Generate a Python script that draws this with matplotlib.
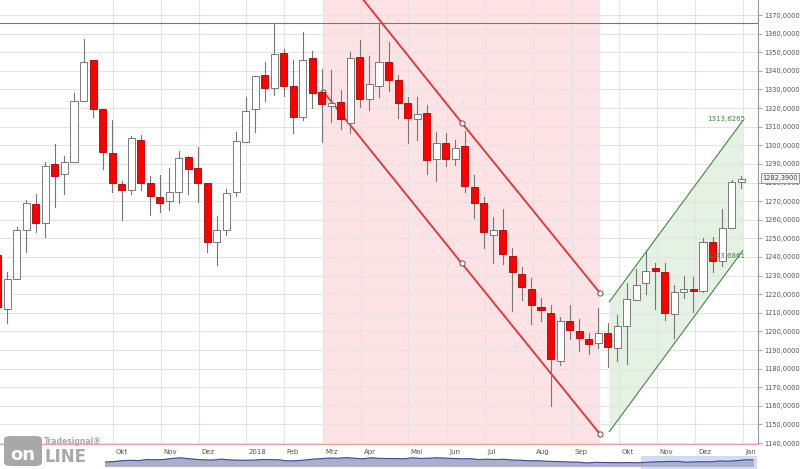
import matplotlib
matplotlib.use("Agg")
import matplotlib.pyplot as plt
from matplotlib.patches import Rectangle, Polygon, FancyBboxPatch
import numpy as np

# weekly candles (open, high, low, close)
opens = [1241,1212,1228,1254.5,1268.5,1258.5,1290,1284.6,1291,1324,1346,1319.5,1296,1279,1276,1303,1279.7,1272,1270,1275,1293.7,1288,1280,1248,1254.5,1274.7,1302,1319.5,1337.6,1331,1349.6,1332,1315,1347,1328.6,1321,1323,1312,1347.4,1325,1332,1344.7,1335,1322.7,1314,1317.4,1292.6,1301,1292.6,1299.6,1277.5,1269,1251.8,1254.5,1240.5,1230.8,1222.6,1213,1210,1184,1205.6,1200,1196,1193.8,1199,1191,1203,1217,1226,1234,1232,1209.4,1221,1222.6,1221.6,1248,1238,1255.5,1280.4]
highs = [1245,1232,1256,1270.6,1274,1291,1300.7,1294,1328,1357,1346,1319.5,1313.6,1281,1305,1305.5,1283.5,1284,1288,1297,1294,1299,1280,1262,1276.5,1307,1326,1337,1344.7,1365.7,1352,1346,1361,1350.7,1341,1340.5,1329.6,1350,1356.6,1348,1365.7,1355.5,1338,1326,1326,1321.6,1307,1306.6,1303,1307.7,1284,1272,1261.5,1265.7,1245,1234.6,1228.6,1218,1214,1207.7,1214,1206.6,1199,1212.5,1204.5,1209,1226,1233.5,1243.7,1236.8,1236.7,1225,1230,1229.2,1250,1250.7,1266,1281.3,1283.5]
lows = [1210,1204.5,1228,1242.7,1253.5,1250.5,1267,1274,1291,1324,1315,1287,1275,1260,1274,1276,1262.5,1264,1265,1269,1273.8,1269.5,1242.7,1235.6,1252,1273,1302,1307,1324,1327,1326.5,1306.6,1313.6,1320,1302,1312.5,1309,1306.6,1320.5,1319,1326,1329,1314.6,1301,1303,1284.6,1281,1289,1289.4,1275,1261,1245,1237,1236,1211,1217,1204,1205.6,1160,1182,1196,1189.5,1187.8,1191,1180.8,1184,1182.4,1217,1220,1212,1206,1196.4,1218,1210.4,1221,1232,1235,1255.5,1277]
closes = [1213,1228,1254.5,1269,1258,1289,1283.5,1291,1324,1345,1319.5,1296.4,1280,1276,1304,1279.7,1273,1269,1275,1293,1287,1280,1248,1254.5,1274.5,1302.5,1318.6,1337,1331,1349,1332,1315,1346,1328,1322,1322.7,1314,1347,1325,1333,1345,1335,1322.7,1314.7,1317,1292,1301,1292.6,1298.5,1278,1269,1253.4,1254.5,1241.5,1232,1224,1214,1211.5,1185,1205.6,1201,1196.4,1193.3,1199,1191.6,1203,1217.4,1225,1232.5,1232.4,1210,1221,1222.8,1221.6,1248,1238,1255.5,1280.4,1282]

month_pos = [12.04,17.13,21.12,26.05,30.04,34.13,38.12,43.05,47.14,51.13,56.17,60.26,65.19,69.18,73.17,78.2]
month_lbl = ["Okt","Nov","Dez","2018","Feb","Mrz","Apr","Mai","Jun","Jul","Aug","Sep","Okt","Nov","Dez","Jan"]

red_x = [34.16, 48.68, 63.19]
red_upper = [1405.0, 1312.1, 1220.6]
red_lower = [1328.8, 1236.6, 1144.8]
green_x = [64.17, 78.17]
green_upper = [1215.9, 1313.2]
green_lower = [1146.1, 1243.4]
resist = 1365.7
last = 1282.39

fig = plt.figure(figsize=(8, 4.69), dpi=100)
ax = fig.add_axes([0, 25/469, 758/800, 444/469])
ax.set_xlim(0.234, 79.77)
ax.set_ylim(1139.5, 1378.06)
ax.set_facecolor("white")
ax.set_yticks(np.arange(1140, 1371, 10))
ax.grid(True, color="#e4e4e4", lw=0.8)
ax.set_axisbelow(True)
ax.set_xticks(month_pos)
ax.set_xticklabels([])
for sp in ["top", "left"]:
    ax.spines[sp].set_visible(False)
ax.spines["bottom"].set_color("#e8a0a0")
ax.spines["right"].set_color("#999999")
ax.yaxis.tick_right()
ax.set_yticklabels([f"{v:.4f}".replace(".", ",") for v in np.arange(1140, 1371, 10)],
                   fontsize=4.8, color="#555555")
ax.tick_params(axis="y", length=3, color="#aaaaaa", pad=1.5)
ax.tick_params(axis="x", length=0)
for p, l in zip(month_pos, month_lbl):
    ax.annotate(l, (p, 0), xycoords=("data", "axes fraction"), xytext=(2, -6),
                textcoords="offset points", fontsize=5, color="#555555", ha="left", va="center")

# red channel
ax.axvspan(red_x[0], red_x[-1], color="#fde3e5", zorder=0.5, lw=0)
ax.plot(red_x, red_upper, color="#e83030", lw=1.3, zorder=3)
ax.plot(red_x, red_lower, color="#e83030", lw=1.3, zorder=3)
ax.scatter([red_x[0], red_x[1], red_x[2], red_x[1], red_x[2]],
           [red_lower[0], red_lower[1], red_lower[2], red_upper[1], red_upper[2]],
           s=14, facecolor="white", edgecolor="#555555", lw=0.7, zorder=4)
# green channel
ax.add_patch(Polygon([[green_x[0], green_lower[0]], [green_x[1], green_lower[1]],
                      [green_x[1], green_upper[1]], [green_x[0], green_upper[0]]],
                     closed=True, facecolor="#e5f1e3", edgecolor="none", zorder=0.5))
ax.plot(green_x, green_upper, color="#3d8a3d", lw=0.8, zorder=3)
ax.plot(green_x, green_lower, color="#3d8a3d", lw=0.8, zorder=3)
ax.text(green_x[1] + 0.3, green_upper[1] + 1, "1313,6265", fontsize=5, color="#3d8a3d", ha="right", va="center", zorder=8)
ax.text(green_x[1] + 0.3, green_lower[1] - 3, "1243,6861", fontsize=5, color="#3d8a3d", ha="right", va="center", zorder=8)

ax.axhline(resist, color="#777777", lw=0.8, zorder=2)

w = 0.74
for i, (o, h, l, c) in enumerate(zip(opens, highs, lows, closes)):
    ax.plot([i, i], [l, h], color="#777777", lw=0.8, zorder=5)
    up = c >= o
    ax.add_patch(Rectangle((i - w/2, min(o, c)), w, max(abs(c - o), 0.6),
                           facecolor="white" if up else "#ff0000",
                           edgecolor="#666666" if up else "#b00000", lw=0.6, zorder=6))

ax.annotate("1282,3900", (1, last), xycoords=("axes fraction", "data"), xytext=(3, 0),
            textcoords="offset points", fontsize=4.8, color="#444444", va="center", ha="left",
            bbox=dict(boxstyle="square,pad=0.25", fc="#f2f2f2", ec="#888888", lw=0.6),
            annotation_clip=False, zorder=10)

# overview strip
ov = fig.add_axes([105/800, 0, 652/800, 13/469])
xs = np.arange(len(closes))
ov.fill_between(xs, closes, 1100, color="#aab0cc")
ov.plot(xs, closes, color="#404a90", lw=0.8)
ov.axvspan(64.5, 78.5, color="#c8d4f4", alpha=0.8, zorder=0)
ov.set_xlim(0, 78.5)
ov.set_ylim(1000, 1400)
ov.axis("off")

# logo
fig.patches.append(FancyBboxPatch((4/800, 3/469), 38/800, 30/469, boxstyle="round,pad=0,rounding_size=0.008",
                                  transform=fig.transFigure, fc="#a8a8a8", ec="none"))
fig.text(23/800, 14/469, "on", fontsize=13, fontweight="bold", color="white", ha="center", va="center")
fig.text(44/800, 12/469, "LINE", fontsize=12, fontweight="bold", color="#a8a8a8", va="center")
fig.text(44/800, 28/469, "Tradesignal®", fontsize=5.5, fontweight="bold", color="#aaaaaa", va="center")

fig.savefig("out.png", dpi=100)
